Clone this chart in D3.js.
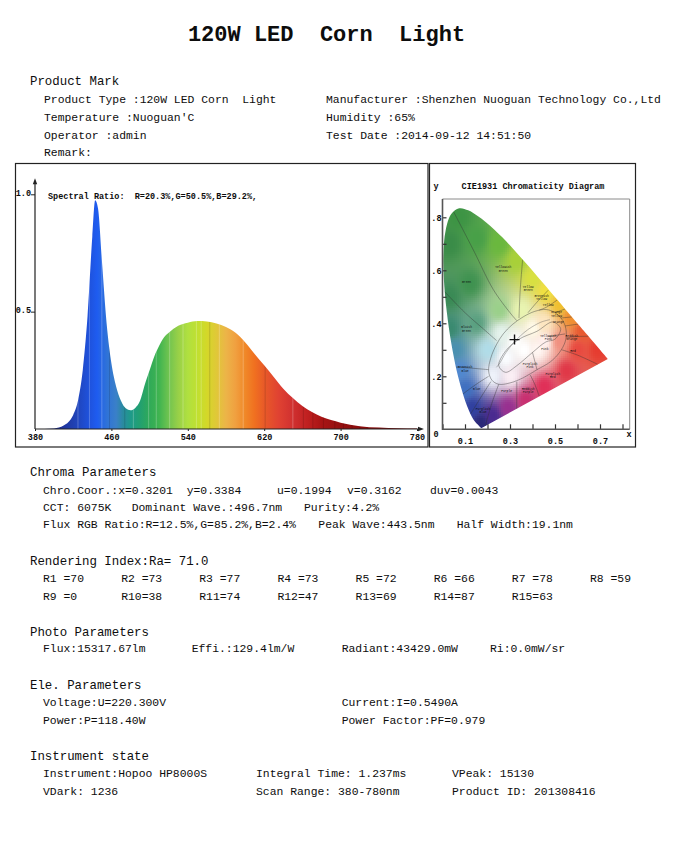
<!DOCTYPE html>
<html>
<head>
<meta charset="utf-8">
<script src="https://cdn.jsdelivr.net/npm/d3@7"></script>
<style>
  body { margin: 0; background: #fff; }
  text { font-family: "Liberation Mono", "DejaVu Sans Mono", monospace; white-space: pre; fill: #0d0d0d; }
</style>
</head>
<body>
<div id="page"></div>
<script>
// ---- report text ----
const title = "120W LED  Corn  Light";
const headings = ["Product Mark", "Chroma Parameters", "Photo Parameters", "Ele. Parameters", "Instrument state"];
const productMark = [
  ["Product Type :120W LED Corn  Light", "Manufacturer :Shenzhen Nuoguan Technology Co.,Ltd"],
  ["Temperature :Nuoguan'C", "Humidity :65%"],
  ["Operator :admin", "Test Date :2014-09-12 14:51:50"],
  ["Remark:"]
];
const chromaParams = [
  ["Chro.Coor.:x=0.3201", "y=0.3384", "u=0.1994", "v=0.3162", "duv=0.0043"],
  ["CCT: 6075K", "Dominant Wave.:496.7nm", "Purity:4.2%"],
  ["Flux RGB Ratio:R=12.5%,G=85.2%,B=2.4%", "Peak Wave:443.5nm", "Half Width:19.1nm"]
];
const raValue = 71.0;
const riNames = ["R1", "R2", "R3", "R4", "R5", "R6", "R7", "R8", "R9", "R10", "R11", "R12", "R13", "R14", "R15"];
const riValues = [70, 73, 77, 73, 72, 66, 78, 59, 0, 38, 74, 47, 69, 87, 63];
const photoParams = [["Flux:15317.67lm", "Effi.:129.4lm/W", "Radiant:43429.0mW", "Ri:0.0mW/sr"]];
const eleParams = [
  ["Voltage:U=220.300V", "Current:I=0.5490A"],
  ["Power:P=118.40W", "Power Factor:PF=0.979"]
];
const instrumentState = [
  ["Instrument:Hopoo HP8000S", "Integral Time: 1.237ms", "VPeak: 15130"],
  ["VDark: 1236", "Scan Range: 380-780nm", "Product ID: 201308416"]
];

// ---- spectrum ----
const spectralRatio = "Spectral Ratio:  R=20.3%,G=50.5%,B=29.2%,";
const wavelengths = [380, 390, 400, 405, 410, 415, 420, 425, 430, 435, 440, 443, 446, 450, 455, 460, 465, 470, 475, 480,
  485, 490, 495, 500, 505, 510, 515, 520, 530, 540, 550, 560, 570, 580, 590, 600, 610, 620, 630, 640,
  650, 660, 670, 680, 690, 700, 720, 740, 760, 780];
const intensity = [0, 0, 0.002, 0.006, 0.015, 0.03, 0.06, 0.12, 0.25, 0.48, 0.82, 0.975, 0.94, 0.72, 0.45, 0.28, 0.18, 0.12, 0.088, 0.08,
  0.09, 0.12, 0.19, 0.25, 0.31, 0.355, 0.39, 0.41, 0.44, 0.453, 0.46, 0.458, 0.45, 0.435, 0.41, 0.37, 0.32, 0.272, 0.222, 0.172,
  0.132, 0.098, 0.072, 0.052, 0.038, 0.027, 0.012, 0.006, 0.003, 0.002];
const specTicksX = [380, 460, 540, 620, 700, 780];
const specTicksY = [0.5, 1.0];
// visible light / dark streaks in the filled spectrum: [nm, +1 light / -1 dark]
const streaks = [[425, 1], [437, 1], [450, 1], [458, -1], [474, -1], [483, 1], [499, 1], [507, 1], [521, 1], [535, 1],
  [549, 1], [554, 1], [563, -1], [573, 1], [598, 1], [621, -1], [650, 1], [661, -1], [671, -1], [682, -1], [694, -1],
  [703, -1], [712, -1], [720, -1], [728, -1]];

// ---- CIE 1931 ----
const cieTitle = "CIE1931 Chromaticity Diagram";
const locus = [ // [nm, x, y]
  [380, 0.1741, 0.0050], [400, 0.1733, 0.0048], [420, 0.1714, 0.0051], [430, 0.1689, 0.0069], [440, 0.1644, 0.0109],
  [450, 0.1566, 0.0177], [460, 0.1440, 0.0297], [465, 0.1355, 0.0399], [470, 0.1241, 0.0578], [475, 0.1096, 0.0868],
  [480, 0.0913, 0.1327], [485, 0.0687, 0.2007], [490, 0.0454, 0.2950], [495, 0.0235, 0.4127], [500, 0.0082, 0.5384],
  [505, 0.0039, 0.6548], [510, 0.0139, 0.7502], [515, 0.0389, 0.8120], [520, 0.0743, 0.8338], [525, 0.1142, 0.8262],
  [530, 0.1547, 0.8059], [535, 0.1929, 0.7816], [540, 0.2296, 0.7543], [545, 0.2658, 0.7243], [550, 0.3016, 0.6923],
  [555, 0.3373, 0.6589], [560, 0.3731, 0.6245], [565, 0.4087, 0.5896], [570, 0.4441, 0.5547], [575, 0.4788, 0.5202],
  [580, 0.5125, 0.4866], [585, 0.5448, 0.4544], [590, 0.5752, 0.4242], [595, 0.6029, 0.3965], [600, 0.6270, 0.3725],
  [610, 0.6658, 0.3340], [620, 0.6915, 0.3083], [630, 0.7079, 0.2920], [640, 0.7190, 0.2809], [650, 0.7260, 0.2740],
  [660, 0.7300, 0.2700], [680, 0.7334, 0.2666], [700, 0.7347, 0.2653]
];
const planckian = [[0.2399, 0.2341], [0.2565, 0.2523], [0.2807, 0.2883], [0.3135, 0.3237], [0.3451, 0.3516],
  [0.3805, 0.3768], [0.4369, 0.4041], [0.4770, 0.4137]];
const samplePoint = [0.3201, 0.3384];
const cieTicks = [0, 0.1, 0.2, 0.3, 0.4, 0.5, 0.6, 0.7, 0.8];
const cieLabelsX = [0.1, 0.3, 0.5, 0.7];
const cieLabelsY = [0.2, 0.4, 0.6, 0.8];
// colour-name regions drawn on the diagram
const outerOval = [[0.205, 0.22], [0.215, 0.27], [0.24, 0.32], [0.27, 0.36], [0.31, 0.395], [0.36, 0.425], [0.41, 0.445],
  [0.46, 0.452], [0.50, 0.44], [0.535, 0.41], [0.55, 0.37], [0.545, 0.33], [0.52, 0.29], [0.48, 0.255], [0.42, 0.225],
  [0.36, 0.195], [0.30, 0.175], [0.25, 0.17], [0.22, 0.185]];
const innerOval = [[0.25, 0.24], [0.28, 0.295], [0.34, 0.34], [0.42, 0.37], [0.49, 0.405], [0.525, 0.38], [0.50, 0.34],
  [0.46, 0.33], [0.40, 0.29], [0.33, 0.24], [0.28, 0.215]];
const regionLines = [
  [[0.05, 0.82], [0.137, 0.677], [0.226, 0.527], [0.30, 0.44], [0.33, 0.41]],
  [[0.356, 0.64], [0.345, 0.52], [0.34, 0.42]],
  [[0.47, 0.525], [0.42, 0.48], [0.38, 0.44]],
  [[0.51, 0.488], [0.46, 0.46], [0.43, 0.45]],
  [[0.545, 0.454], [0.50, 0.44]],
  [[0.575, 0.424], [0.525, 0.42]],
  [[0.603, 0.397], [0.545, 0.39]],
  [[0.648, 0.351], [0.60, 0.35], [0.55, 0.345]],
  [[0.69, 0.245], [0.60, 0.28], [0.53, 0.30]],
  [[0.43, 0.125], [0.41, 0.17], [0.39, 0.205]],
  [[0.33, 0.077], [0.33, 0.13], [0.33, 0.18]],
  [[0.19, 0.012], [0.22, 0.10], [0.25, 0.17]],
  [[0.125, 0.058], [0.17, 0.12], [0.215, 0.18]],
  [[0.09, 0.133], [0.15, 0.17], [0.205, 0.2]],
  [[0.06, 0.235], [0.14, 0.23], [0.205, 0.225]],
  [[0.009, 0.52], [0.1, 0.44], [0.18, 0.38], [0.24, 0.335]],
  [[0.40, 0.29], [0.42, 0.225]],
  [[0.47, 0.35], [0.545, 0.36]]
];
const regionNames = [
  ["Yellowish Green", 0.27, 0.607], ["Green", 0.107, 0.551], ["Bluish Green", 0.107, 0.381],
  ["Yellow Green", 0.381, 0.533], ["Greenish Yellow", 0.441, 0.501], ["Yellow", 0.47, 0.466],
  ["Orange Yellow", 0.507, 0.437], ["Orange", 0.515, 0.40], ["Reddish Orange", 0.575, 0.35],
  ["Yellowish Pink", 0.47, 0.35], ["Pink", 0.455, 0.30], ["Red", 0.58, 0.29], ["Purplish Pink", 0.389, 0.243],
  ["Purplish Red", 0.49, 0.205], ["Reddish Purple", 0.381, 0.148], ["Purple", 0.285, 0.142],
  ["Blue", 0.152, 0.149], ["Greenish Blue", 0.10, 0.23], ["Purplish Blue", 0.18, 0.072]
];

// ---- styles ----
const specColors = [[380, "#1a2070"], [400, "#1c2a8c"], [420, "#2040b0"], [435, "#1f50d8"], [445, "#1e5cf0"],
  [455, "#2f72d8"], [465, "#3a80c8"], [472, "#2a8aa0"], [480, "#1e9a8a"], [490, "#22a070"], [500, "#30aa58"],
  [510, "#40b450"], [520, "#70c450"], [530, "#98d048"], [540, "#b0e040"], [550, "#c0e030"], [560, "#d4d828"],
  [570, "#e0c838"], [580, "#ecb448"], [590, "#f0a040"], [600, "#f08828"], [610, "#f07020"], [620, "#e85a28"],
  [635, "#e04232"], [650, "#d03030"], [665, "#c02020"], [680, "#a81414"], [700, "#941010"], [740, "#840a0a"],
  [780, "#700000"]];
const cieAnchors = [
  [0.07, 0.80, "#3d9444"], [0.03, 0.70, "#3a8c48"], [0.15, 0.72, "#48a048"], [0.25, 0.70, "#6ab83e"],
  [0.33, 0.64, "#a8d038"], [0.40, 0.57, "#d8e040"], [0.46, 0.52, "#f0e040"], [0.52, 0.47, "#f0c030"],
  [0.57, 0.42, "#f09030"], [0.62, 0.37, "#e85a30"], [0.69, 0.30, "#e63c30"], [0.60, 0.30, "#e84a40"],
  [0.52, 0.33, "#f09080"], [0.55, 0.22, "#e03848"], [0.45, 0.16, "#e03058"], [0.37, 0.11, "#c83070"],
  [0.29, 0.08, "#983090"], [0.22, 0.05, "#4a2a90"], [0.17, 0.02, "#2a2878"], [0.13, 0.08, "#3040a0"],
  [0.10, 0.15, "#4070c0"], [0.07, 0.22, "#5088d0"], [0.05, 0.30, "#4a90b0"], [0.03, 0.38, "#3a8a70"],
  [0.03, 0.50, "#3a8a55"], [0.12, 0.55, "#3f9250"], [0.15, 0.40, "#5aa080"], [0.20, 0.30, "#b0dce8"],
  [0.25, 0.45, "#9ad08a"], [0.32, 0.33, "#ffffff"], [0.36, 0.30, "#ffffff"], [0.28, 0.27, "#fafcff"],
  [0.42, 0.30, "#fff6f2"], [0.40, 0.38, "#fffae8"], [0.22, 0.20, "#eef2fa"], [0.30, 0.20, "#faeef4"],
  [0.35, 0.45, "#e8f4b0"], [0.45, 0.40, "#fde6c0"], [0.26, 0.36, "#e4f2ec"], [0.45, 0.33, "#fff0ee"]
].map(a => [a[0], a[1], d3.rgb(a[2])]);

const W = 674, H = 841;
const svg = d3.select("#page").append("svg").attr("width", W).attr("height", H);
const defs = svg.append("defs");

function addText(sel, str, x, y, size, anchor) {
  return sel.append("text").attr("x", x).attr("y", y).attr("dy", "0.35em")
    .attr("xml:space", "preserve").attr("font-size", size)
    .attr("text-anchor", anchor || "start").text(str);
}

// title
addText(svg, title, 326.5, 33, 22, "middle").attr("font-weight", "bold");

// ---- text blocks ----
const headX = 30, bodySize = 11.4, headSize = 12.4;
function block(heading, headY, rows, rowYs, cols) {
  if (heading) addText(svg, heading, headX, headY, headSize);
  rows.forEach((row, i) => row.forEach((s, j) => addText(svg, s, cols[i][j], rowYs[i], bodySize)));
}
block(headings[0], 81, productMark, [99, 117, 135, 152], [[44, 326], [44, 326], [44, 326], [44]]);
block(headings[1], 472, chromaParams, [490, 507, 524], [[43, 186.7, 277, 347, 430], [43, 131.7, 304], [43, 318.3, 456.7]]);
addText(svg, "Rendering Index:Ra= " + raValue.toFixed(1), headX, 561, headSize);
const riX = d3.scaleLinear().domain([0, 7]).range([43, 590]);
riNames.forEach((n, i) => {
  addText(svg, n.padEnd(3, " ") + "=" + riValues[i], riX(i % 8), i < 8 ? 578 : 596, bodySize);
});
block(headings[2], 632, photoParams, [648], [[43, 191.7, 341.7, 490]]);
block(headings[3], 685, eleParams, [702, 720], [[43, 341.7], [43, 341.7]]);
block(headings[4], 756, instrumentState, [773, 791], [[43, 256, 452], [43, 256, 452]]);

// ---- panel frames ----
svg.append("rect").attr("x", 15.5).attr("y", 163.5).attr("width", 412.5).attr("height", 283.5)
  .attr("fill", "none").attr("stroke", "#222").attr("stroke-width", 1.2);
svg.append("rect").attr("x", 429.5).attr("y", 163.5).attr("width", 206).attr("height", 283.5)
  .attr("fill", "none").attr("stroke", "#222").attr("stroke-width", 1.2);

// ---- spectrum chart ----
const xS = d3.scaleLinear().domain([380, 780]).range([35, 417]);
const yS = d3.scaleLinear().domain([0, 1]).range([429, 194.3]);
const grad = defs.append("linearGradient").attr("id", "specGrad").attr("gradientUnits", "userSpaceOnUse")
  .attr("x1", xS(380)).attr("x2", xS(780)).attr("y1", 0).attr("y2", 0);
grad.selectAll("stop").data(specColors).enter().append("stop")
  .attr("offset", d => (d[0] - 380) / 400).attr("stop-color", d => d[1]);
const spec = d3.zip(wavelengths, intensity);
const area = d3.area().x(d => xS(d[0])).y0(yS(0)).y1(d => yS(d[1])).curve(d3.curveMonotoneX);
defs.append("clipPath").attr("id", "specClip").append("path").datum(spec).attr("d", area);
svg.append("path").datum(spec).attr("d", area).attr("fill", "url(#specGrad)");
svg.append("g").attr("clip-path", "url(#specClip)").selectAll("line").data(streaks).enter().append("line")
  .attr("x1", d => xS(d[0])).attr("x2", d => xS(d[0])).attr("y1", yS(0)).attr("y2", yS(1))
  .attr("stroke", d => d[1] > 0 ? "#fff" : "#000").attr("stroke-opacity", d => d[1] > 0 ? 0.3 : 0.18)
  .attr("stroke-width", 0.8);

const gx = svg.append("g").attr("transform", `translate(0,${yS(0)})`)
  .call(d3.axisBottom(xS).tickValues(specTicksX).tickSize(2).tickPadding(3).tickFormat(d3.format("d")));
const gy = svg.append("g").attr("transform", `translate(${xS(380)},0)`)
  .call(d3.axisLeft(yS).tickValues(specTicksY).tickSize(4).tickPadding(0).tickFormat(d3.format(".1f")));
[gx, gy].forEach(g => {
  g.select(".domain").remove();
  g.selectAll("text").attr("font-size", 8.5).attr("font-weight", "bold")
    .style("font-family", '"Liberation Mono", monospace').attr("fill", "#151515");
  g.selectAll("line").attr("stroke", "#222");
});
gy.selectAll("text").attr("dy", "0.1em");
// axis lines with arrow heads
const ax0 = xS(380), ay0 = yS(0), axEnd = xS(780) + 3, ayEnd = yS(1) - 12;
svg.append("path").attr("d", `M${ax0},${ay0}H${axEnd}M${ax0},${ay0}V${ayEnd}`)
  .attr("stroke", "#222").attr("stroke-width", 1.2).attr("fill", "none");
svg.append("path").attr("d", `M${axEnd + 4},${ay0}l-6,-2.2v4.4z M${ax0},${ayEnd - 4}l-2.2,6h4.4z`).attr("fill", "#222");
addText(svg, spectralRatio, 48, yS(1) + 1.5, 8.5).attr("font-weight", "bold");

// ---- CIE chart ----
const cx = d3.scaleLinear().domain([0, 0.8]).range([442.5, 622.5]);
const cy = d3.scaleLinear().domain([0, 0.8]).range([429.3, 217.3]);
const locusLine = d3.line().x(d => cx(d[1])).y(d => cy(d[2])).curve(d3.curveCatmullRom);
defs.append("clipPath").attr("id", "locusClip").append("path").attr("d", locusLine(locus) + "Z");

function fieldColor(x, y) {
  let r = 0, g = 0, b = 0, ws = 0;
  for (const a of cieAnchors) {
    const d2 = (x - a[0]) ** 2 + (y - a[1]) ** 2 + 1e-6;
    const w = 1 / Math.pow(d2, 1.4);
    r += w * a[2].r; g += w * a[2].g; b += w * a[2].b; ws += w;
  }
  return d3.rgb(r / ws, g / ws, b / ws).formatHex();
}
const cells = [];
const step = 2;
for (let px = cx(0); px < cx(0.75); px += step) {
  for (let py = cy(0.85); py < cy(0); py += step) {
    cells.push([px, py, fieldColor(cx.invert(px + step / 2), cy.invert(py + step / 2))]);
  }
}
const field = svg.append("g").attr("clip-path", "url(#locusClip)");
field.selectAll("rect").data(cells).enter().append("rect")
  .attr("x", d => d[0]).attr("y", d => d[1]).attr("width", step + 0.3).attr("height", step + 0.3)
  .attr("fill", d => d[2]).attr("shape-rendering", "crispEdges");

// region outlines
const ptLine = d3.line().x(d => cx(d[0])).y(d => cy(d[1]));
const regions = svg.append("g").attr("clip-path", "url(#locusClip)")
  .attr("fill", "none").attr("stroke", "#333").attr("stroke-width", 0.5).attr("stroke-opacity", 0.8);
regions.append("path").attr("d", ptLine.curve(d3.curveCatmullRomClosed)(outerOval));
regions.append("path").attr("d", ptLine.curve(d3.curveCatmullRomClosed)(innerOval));
regionLines.forEach(l => regions.append("path").attr("d", ptLine.curve(d3.curveCatmullRom)(l)));
regions.append("path").attr("d", ptLine.curve(d3.curveCatmullRom)(planckian)).attr("stroke", "#555");
const names = svg.append("g");
regionNames.forEach(n => {
  const t = names.append("text").attr("font-size", 3).attr("text-anchor", "middle").attr("fill", "#222");
  n[0].split(" ").forEach((w, i) => t.append("tspan").attr("x", cx(n[1])).attr("y", cy(n[2]) + i * 3.2).text(w));
});
// sample point cross
svg.append("path")
  .attr("d", `M${cx(samplePoint[0]) - 5},${cy(samplePoint[1])}h10M${cx(samplePoint[0])},${cy(samplePoint[1]) - 5}v10`)
  .attr("stroke", "#111").attr("stroke-width", 1.4);

// frame and axes
svg.append("path").attr("d", `M${cx(0)},${199}H${629.7}V${cy(0)}`).attr("fill", "none")
  .attr("stroke", "#8a8a8a").attr("stroke-width", 1);
const cgx = svg.append("g").attr("transform", `translate(0,${cy(0)})`)
  .call(d3.axisBottom(cx).tickValues(cieTicks).tickSize(-5).tickPadding(9)
    .tickFormat(d => cieLabelsX.includes(d) ? d3.format(".1f")(d) : ""));
const cgy = svg.append("g").attr("transform", `translate(${cx(0)},0)`)
  .call(d3.axisLeft(cy).tickValues(cieTicks.slice(1)).tickSize(-4).tickPadding(1)
    .tickFormat(d => cieLabelsY.includes(d) ? d3.format(".1f")(d).slice(1) : ""));
[cgx, cgy].forEach(g => {
  g.select(".domain").remove();
  g.selectAll("line").attr("stroke", "#333").attr("stroke-width", 1.2);
  g.selectAll("text").attr("font-size", 8.5).attr("font-weight", "bold")
    .style("font-family", '"Liberation Mono", monospace').attr("fill", "#151515");
});
svg.append("path").attr("d", `M${cx(0)},199V${cy(0)}H629.7`).attr("fill", "none")
  .attr("stroke", "#555").attr("stroke-width", 1.6);
addText(svg, "0", 436, 434.5, 8.5, "middle").attr("font-weight", "bold");
addText(svg, "x", 629, 434.5, 8.5, "middle").attr("font-weight", "bold");
addText(svg, "y", 436, 186, 8.5, "middle").attr("font-weight", "bold");
addText(svg, cieTitle, 533, 186, 8.5, "middle").attr("font-weight", "bold");
</script>
</body>
</html>
